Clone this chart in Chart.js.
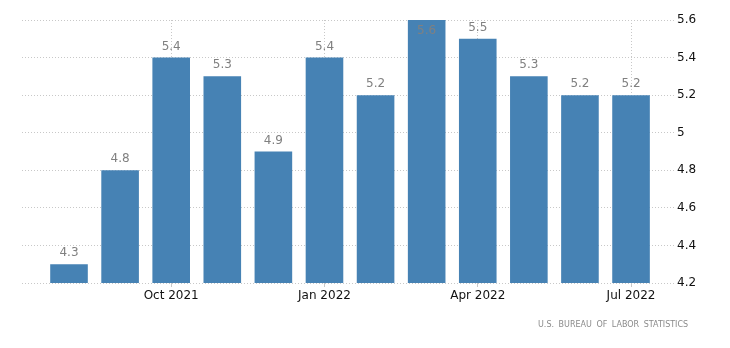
<!DOCTYPE html>
<html>
<head>
<meta charset="utf-8">
<script src="https://cdn.jsdelivr.net/npm/chart.js@4/dist/chart.umd.min.js"></script>
<style>
  html,body{margin:0;padding:0;background:#fff;}
  #wrap{position:relative;width:730px;height:348px;}
  #src{position:absolute;left:538px;top:320px;font:8px "DejaVu Sans",Verdana,sans-serif;letter-spacing:0px;word-spacing:2px;color:#8a8a8a;white-space:nowrap;}
</style>
</head>
<body>
<div id="wrap">
<canvas id="c" width="730" height="348"></canvas>
<div id="src">U.S. BUREAU OF LABOR STATISTICS</div>
</div>
<script>
const months = ["Aug 2021","Sep 2021","Oct 2021","Nov 2021","Dec 2021","Jan 2022","Feb 2022","Mar 2022","Apr 2022","May 2022","Jun 2022","Jul 2022"];
const values = [4.3, 4.8, 5.4, 5.3, 4.9, 5.4, 5.2, 5.6, 5.5, 5.3, 5.2, 5.2];
const xTickIndex = [2, 5, 8, 11];
const xTickLabels = ["Oct 2021", "Jan 2022", "Apr 2022", "Jul 2022"];
const yTicks = [4.2, 4.4, 4.6, 4.8, 5, 5.2, 5.4, 5.6];
const yMin = 4.2, yMax = 5.6;

const FONT = "'DejaVu Sans', Verdana, sans-serif";

const labelPlugin = {
  id: 'barLabels',
  afterDatasetsDraw(chart) {
    const ctx = chart.ctx;
    const meta = chart.getDatasetMeta(0);
    ctx.save();
    ctx.font = "12px " + FONT;
    ctx.textAlign = 'center';
    ctx.fillStyle = '#808080';
    meta.data.forEach((bar, i) => {
      const txt = String(values[i]);
      if (values[i] >= yMax) {
        ctx.textBaseline = 'top';
        ctx.fillText(txt, bar.x, bar.y + 5);
      } else {
        ctx.textBaseline = 'bottom';
        ctx.fillText(txt, bar.x, bar.y - 5);
      }
    });
    ctx.restore();
  }
};

new Chart(document.getElementById('c'), {
  type: 'bar',
  data: {
    datasets: [{
      data: values.map((v, i) => ({x: i, y: v})),
      backgroundColor: '#4682b4',
      borderWidth: 0,
      barPercentage: 0.92,
      categoryPercentage: 0.8
    }]
  },
  options: {
    responsive: false,
    animation: false,
    events: [],
    layout: {padding: {left: 22, top: 20, right: 0, bottom: 0}},
    plugins: {legend: {display: false}, tooltip: {enabled: false}},
    scales: {
      x: {
        type: 'linear',
        offset: false,
        min: -0.92,
        max: 11.88,
        afterBuildTicks(scale) { scale.ticks = xTickIndex.map(v => ({value: v})); },
        afterFit(scale) { scale.height = 65; },
        border: {display: false, dash: [1, 2]},
        grid: {
          offset: false,
          color: '#c8c8c8',
          tickColor: '#c8c8c8',
          tickLength: 4,
          tickBorderDash: [],
          drawOnChartArea: true
        },
        ticks: {
          color: '#111',
          font: {family: FONT, size: 12},
          padding: 2,
          maxRotation: 0,
          autoSkip: false,
          callback(v) { const k = xTickIndex.indexOf(v); return k >= 0 ? xTickLabels[k] : ''; }
        }
      },
      y: {
        position: 'right',
        min: yMin,
        max: yMax,
        afterBuildTicks(scale) { scale.ticks = yTicks.map(v => ({value: v})); },
        afterFit(scale) { scale.width = 54; },
        border: {display: false, dash: [1, 2]},
        grid: {color: '#c8c8c8', drawTicks: false},
        ticks: {
          color: '#111',
          font: {family: FONT, size: 12},
          padding: 1,
          callback(v) { return String(v); }
        }
      }
    }
  },
  plugins: [labelPlugin]
});
</script>
</body>
</html>
